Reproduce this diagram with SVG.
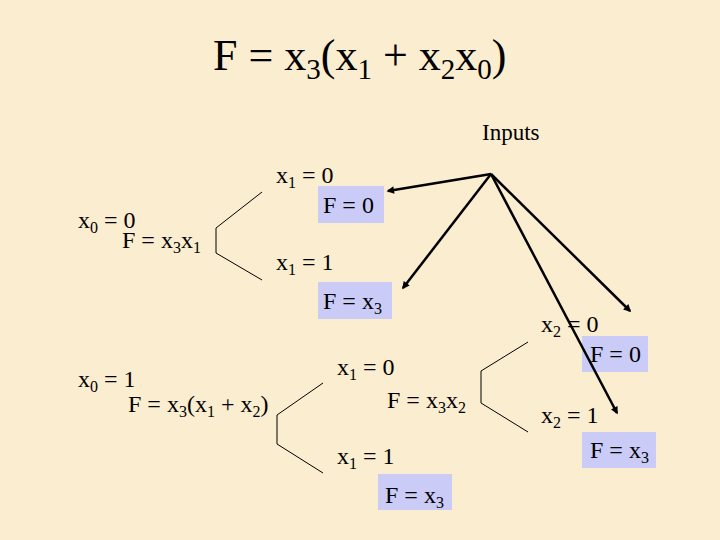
<svg xmlns="http://www.w3.org/2000/svg" width="720" height="540" viewBox="0 0 720 540">
<defs>
<style>
.t{font-size:24px}
.s{font-size:16px}
.title{font-size:44px}
.ts{font-size:29px}
.box{fill:#CACBF6}
.br{fill:none;stroke:#000;stroke-width:1}
.ar{fill:none;stroke:#000;stroke-width:2.5;marker-end:url(#ah)}
</style>
<marker id="ah" viewBox="0 0 10 10" refX="8" refY="5" markerWidth="3.5" markerHeight="3" orient="auto" markerUnits="strokeWidth">
<path d="M0,0 L10,5 L0,10 z" fill="#000"/>
</marker>
</defs>
<rect width="720" height="540" fill="#FBEDD0"/>
<g font-family="Liberation Serif, serif" fill="#000">
<g id="title"><text class="title" x="213" y="70" font-family="Liberation Serif, serif">F = x<tspan class="ts" dy="9">3</tspan><tspan dy="-9">(x</tspan><tspan class="ts" dy="9">1</tspan><tspan dy="-9"> + x</tspan><tspan class="ts" dy="9">2</tspan><tspan dy="-9">x</tspan><tspan class="ts" dy="9">0</tspan><tspan dy="-9">)</tspan></text></g>
<g id="inputs"><text x="482" y="140" font-size="23" font-family="Liberation Serif, serif">Inputs</text></g>

<g id="n-x0-0">
<text class="t" x="78" y="228" font-family="Liberation Serif, serif">x<tspan class="s" dy="5">0</tspan><tspan dy="-5"> = 0</tspan></text>
<text class="t" x="122" y="248" font-family="Liberation Serif, serif">F = x<tspan class="s" dy="5">3</tspan><tspan dy="-5">x</tspan><tspan class="s" dy="5">1</tspan></text>
</g>
<g id="n-x0-0-x1-0">
<text class="t" x="276" y="183" font-family="Liberation Serif, serif">x<tspan class="s" dy="5">1</tspan><tspan dy="-5"> = 0</tspan></text>
<rect class="box" x="318" y="186" width="66" height="37"/>
<text class="t" x="323" y="213" font-family="Liberation Serif, serif">F = 0</text>
</g>
<g id="n-x0-0-x1-1">
<text class="t" x="276" y="270" font-family="Liberation Serif, serif">x<tspan class="s" dy="5">1</tspan><tspan dy="-5"> = 1</tspan></text>
<rect class="box" x="318" y="282" width="74" height="37"/>
<text class="t" x="323" y="309" font-family="Liberation Serif, serif">F = x<tspan class="s" dy="5">3</tspan></text>
</g>

<g id="n-x0-1">
<text class="t" x="78" y="387" font-family="Liberation Serif, serif">x<tspan class="s" dy="5">0</tspan><tspan dy="-5"> = 1</tspan></text>
<text class="t" x="128" y="412" font-family="Liberation Serif, serif">F = x<tspan class="s" dy="5">3</tspan><tspan dy="-5">(x</tspan><tspan class="s" dy="5">1</tspan><tspan dy="-5"> + x</tspan><tspan class="s" dy="5">2</tspan><tspan dy="-5">)</tspan></text>
</g>
<g id="n-x0-1-x1-0">
<text class="t" x="337" y="375" font-family="Liberation Serif, serif">x<tspan class="s" dy="5">1</tspan><tspan dy="-5"> = 0</tspan></text>
<text class="t" x="387" y="408" font-family="Liberation Serif, serif">F = x<tspan class="s" dy="5">3</tspan><tspan dy="-5">x</tspan><tspan class="s" dy="5">2</tspan></text>
</g>
<g id="n-x0-1-x1-1">
<text class="t" x="337" y="464" font-family="Liberation Serif, serif">x<tspan class="s" dy="5">1</tspan><tspan dy="-5"> = 1</tspan></text>
<rect class="box" x="378" y="474" width="74" height="36"/>
<text class="t" x="385" y="503" font-family="Liberation Serif, serif">F = x<tspan class="s" dy="5">3</tspan></text>
</g>
<g id="n-x2-0">
<text class="t" x="541" y="332" font-family="Liberation Serif, serif">x<tspan class="s" dy="5">2</tspan><tspan dy="-5"> = 0</tspan></text>
<rect class="box" x="582" y="336" width="66" height="36"/>
<text class="t" x="590" y="362" font-family="Liberation Serif, serif">F = 0</text>
</g>
<g id="n-x2-1">
<text class="t" x="541" y="423" font-family="Liberation Serif, serif">x<tspan class="s" dy="5">2</tspan><tspan dy="-5"> = 1</tspan></text>
<rect class="box" x="582" y="432" width="74" height="36"/>
<text class="t" x="590" y="458" font-family="Liberation Serif, serif">F = x<tspan class="s" dy="5">3</tspan></text>
</g>
</g>

<g id="connectors">
<polyline class="br" points="262,192 216,228 216,253 262,280"/>
<polyline class="br" points="323,383 277,415 277,444 323,473"/>
<polyline class="br" points="528,342 481,371 481,403 528,432"/>
<line class="ar" x1="491" y1="174" x2="388" y2="191"/>
<line class="ar" x1="491" y1="174" x2="403" y2="288"/>
<line class="ar" x1="491" y1="174" x2="630" y2="311"/>
<line class="ar" x1="491" y1="174" x2="617" y2="413"/>
</g>
</svg>
